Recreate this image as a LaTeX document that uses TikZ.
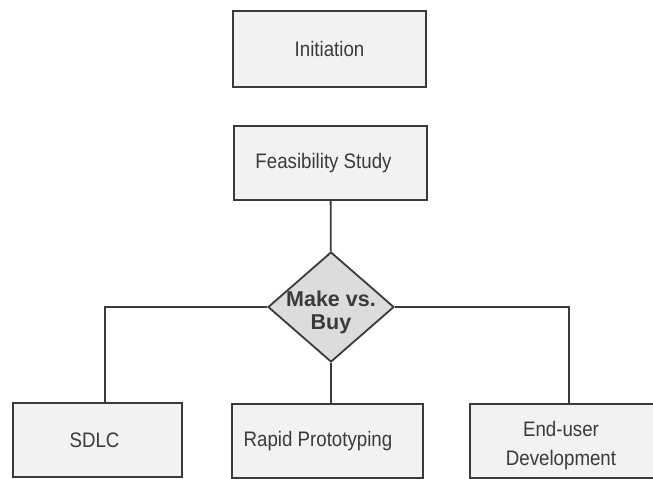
\documentclass[tikz,border=0pt]{standalone}
\usepackage{fontspec}
\setmainfont[FakeStretch=0.89]{Liberation Sans}
\newfontfamily\choicefont{Liberation Sans}
\usepackage{tikz}
\usetikzlibrary{shapes.geometric}
\definecolor{boxgray}{HTML}{F2F2F2}
\definecolor{diagray}{HTML}{DCDCDE}
\definecolor{linegray}{HTML}{3A3A3A}

\begin{document}
\begin{tikzpicture}[x=1pt, y=-1pt,
	phase/.style={draw=linegray, line width=1.8pt, fill=boxgray,
		text=linegray, align=center, inner sep=0pt,
		font=\fontsize{21}{29}\selectfont},
	choice/.style={diamond, draw=linegray, line width=1.8pt, fill=diagray,
		text=linegray, inner sep=-6pt, aspect=1.15,
		minimum width=126pt, minimum height=110pt,
		font=\choicefont\bfseries\fontsize{21.5}{23}\selectfont},
	link/.style={draw=linegray, line width=1.8pt}]
	\clip (0,0) rectangle (653,479);
	\fill[white] (0,0) rectangle (653,479);
	\node [phase, minimum width=193pt, minimum height=76pt] (1) at (329.5,49) 
		{Initiation};
	\node [phase, minimum width=193pt, minimum height=74pt] (2) at (330.5,163) 
		{\hspace{-14pt}Feasibility Study};
	\node [choice] (3) at (331,307) 
		{\raisebox{-5pt}[\height][\depth]{\parbox{90pt}{\centering Make vs.\\Buy}}};
	\node [phase, minimum width=169pt, minimum height=74pt] (4) at (97.5,440) 
		{\hspace{-6pt}SDLC};
	\node [phase, minimum width=191pt, minimum height=74pt] (5) at (327.5,441) 
		{\hspace{-19pt}Rapid Prototyping};
	\node [phase, minimum width=198pt, minimum height=74pt] (6) at (569,441) 
		{\raisebox{-4pt}[\height][\depth]{\hspace{-16pt}%
		\begin{tabular}{@{}c@{}}End-user\\Development\end{tabular}}};
	\path [link] (2) -- (3);
	\path [link] (3.west) -| ([xshift=7.5pt]4.north);
	\path [link] (3.south) -- (3.south |- 5.north);
	\path [link] (3.east) -| (6.north);
\end{tikzpicture}
\end{document}
